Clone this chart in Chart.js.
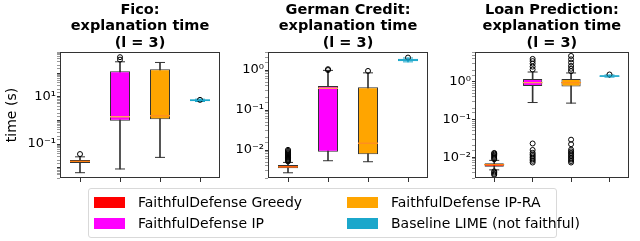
<!DOCTYPE html>
<html>
<head>
<meta charset="utf-8">
<script src="https://cdn.jsdelivr.net/npm/chart.js@4.4.1/dist/chart.umd.min.js"></script>
<style>
body{margin:0;width:640px;height:241px;overflow:hidden;background:#fff;font-family:"DejaVu Sans",sans-serif;position:relative}
canvas{position:absolute;left:0;top:0}
#legend{position:absolute;left:88px;top:188px;width:467px;height:48px;border:1px solid #d9d9d9;border-radius:3px;background:#fff}
.item{position:absolute;font-size:14px;line-height:16px;white-space:nowrap;color:#000}
.sw{display:inline-block;width:31px;height:11px;vertical-align:-1px;margin-right:13px}
</style>
</head>
<body>
<canvas id="fico" width="640" height="241"></canvas>
<canvas id="german" width="640" height="241"></canvas>
<canvas id="loan" width="640" height="241"></canvas>
<div id="legend"></div>
<script>
const methods = ["FaithfulDefense Greedy", "FaithfulDefense IP", "FaithfulDefense IP-RA", "Baseline LIME (not faithful)"];
const boxColors = ["#ff0000", "#ff00ff", "#ffa500", "#1ba7cb"];
const edgeColors = ["#333", "#333", "#333", "#1ba7cb"];
const medianColors = ["#ff7f0e", "#ff9f5e", "#ff8f1e", "#1ba7cb"];

// Fico
const ficoQ1 = [0.016, 0.97, 1.12, 6.4];
const ficoQ3 = [0.0214, 120, 144, 7.8];
const ficoMed = [0.0186, 1.43, 1.58, 7.1];
const ficoLow = [0.0062, 0.0089, 0.0275, 6.3];
const ficoHigh = [0.029, 300, 281, 7.9];
const ficoOut = [[0.038], [370, 470], [], [7.4]];
const ficoTickVals = [10, 0.1];
const ficoTickText = ["10¹", "10⁻¹"];

// German Credit
const germanQ1 = [0.0035, 0.0091, 0.0078, 1.65];
const germanQ3 = [0.0042, 0.40, 0.37, 1.92];
const germanMed = [0.0038, 0.35, 0.0148, 1.78];
const germanLow = [0.0027, 0.0054, 0.0051, 1.6];
const germanHigh = [0.0049, 0.98, 0.85, 2.0];
const germanOut = [
    [0.0052, 0.0055, 0.0058, 0.0061, 0.0064, 0.0067, 0.0071, 0.0075, 0.0079, 0.0084, 0.0089, 0.0095, 0.0101],
    [1.0, 1.05],
    [0.95],
    [2.05],
];
const germanTickVals = [1, 0.1, 0.01];
const germanTickText = ["10⁰", "10⁻¹", "10⁻²"];

// Loan Prediction
const loanQ1 = [0.0056, 0.77, 0.74, 1.34];
const loanQ3 = [0.0069, 1.18, 1.18, 1.48];
const loanMed = [0.0063, 0.94, 0.94, 1.41];
const loanLow = [0.0046, 0.28, 0.27, 1.32];
const loanHigh = [0.0082, 1.8, 1.7, 1.5];
const loanOut = [
    [0.0034, 0.0036, 0.0039, 0.0042, 0.0088, 0.0094, 0.0101, 0.0108, 0.0116, 0.0124, 0.0129],
    [2.1, 2.5, 3.0, 3.5, 4.0, 0.0072, 0.008, 0.0088, 0.0097, 0.0107, 0.0118, 0.013, 0.0155, 0.023],
    [1.9, 2.2, 2.6, 3.2, 3.9, 4.8, 0.0072, 0.0079, 0.0087, 0.0096, 0.0106, 0.0117, 0.0129, 0.0142, 0.0158, 0.022, 0.029],
    [1.55],
];
const loanTickVals = [1, 0.1, 0.01];
const loanTickText = ["10⁰", "10⁻¹", "10⁻²"];

const framePlugin = {
    id: "frame",
    afterDraw(chart) {
        const a = chart.chartArea;
        const ctx = chart.ctx;
        ctx.save();
        ctx.strokeStyle = "#333";
        ctx.lineWidth = 1;
        ctx.strokeRect(Math.round(a.left) + 0.5, Math.round(a.top) + 0.5, Math.round(a.right - a.left) - 1, Math.round(a.bottom - a.top) - 1);
        ctx.restore();
    },
};

const buildPanel = (id, p) => {
    const capPts = [];
    const capColors = [];
    const medPts = [];
    const outPts = [];
    for (let i = 0; i < methods.length; i++) {
        capPts.push({ x: methods[i], y: p.low[i] }, { x: methods[i], y: p.high[i] });
        capColors.push(edgeColors[i], edgeColors[i]);
        medPts.push({ x: methods[i], y: p.med[i] });
        p.out[i].forEach((v) => outPts.push({ x: methods[i], y: v }));
    }
    new Chart(document.getElementById(id), {
        type: "bar",
        data: {
            labels: methods,
            datasets: [
                {
                    type: "bar",
                    data: methods.map((m, i) => [p.low[i], p.high[i]]),
                    backgroundColor: edgeColors,
                    barThickness: 1,
                    borderWidth: 0,
                    grouped: false,
                    order: 3,
                },
                {
                    type: "bar",
                    data: methods.map((m, i) => [p.q1[i], p.q3[i]]),
                    backgroundColor: boxColors,
                    borderColor: edgeColors,
                    borderWidth: 1,
                    borderSkipped: false,
                    barPercentage: 0.5,
                    categoryPercentage: 1,
                    grouped: false,
                    order: 2,
                },
                {
                    type: "line",
                    data: capPts,
                    showLine: false,
                    pointStyle: "line",
                    pointRadius: 5,
                    pointBorderColor: capColors,
                    pointBorderWidth: 1,
                    order: 1,
                },
                {
                    type: "line",
                    data: medPts,
                    showLine: false,
                    pointStyle: "line",
                    pointRadius: 10,
                    pointBorderColor: medianColors,
                    pointBorderWidth: 1.3,
                    order: 0,
                },
                {
                    type: "line",
                    data: outPts,
                    showLine: false,
                    pointStyle: "circle",
                    pointRadius: 2.5,
                    pointBorderColor: "#000",
                    pointBackgroundColor: "rgba(0,0,0,0)",
                    pointBorderWidth: 1,
                    order: 0,
                },
            ],
        },
        options: {
            responsive: false,
            animation: false,
            events: [],
            layout: { padding: { left: p.padLeft, right: 640 - p.right, top: 2.3, bottom: 58 } },
            plugins: {
                legend: { display: false },
                tooltip: { enabled: false },
                title: {
                    display: true,
                    fullSize: false,
                    text: p.title,
                    color: "#000",
                    font: { family: "DejaVu Sans", size: 14.5, weight: "bold", lineHeight: 1.12 },
                    padding: { top: 0, bottom: 1 },
                },
            },
            scales: {
                x: {
                    grid: { drawOnChartArea: false, offset: false, tickLength: 4, tickColor: "#333" },
                    border: { display: false },
                    ticks: { callback: () => "", padding: 0 },
                    afterFit: (s) => { s.height = 5; },
                },
                y: {
                    type: "logarithmic",
                    min: p.min,
                    max: p.max,
                    border: { display: false },
                    grid: {
                        drawOnChartArea: false,
                        tickLength: 3,
                        tickColor: (c) => (c.tick && c.tick.major ? "#333" : "#999"),
                    },
                    ticks: {
                        autoSkip: false,
                        padding: 1,
                        color: "#000",
                        font: { family: "DejaVu Sans", size: 13 },
                        callback: (v) => {
                            const k = p.tickVals.findIndex((t) => Math.abs(Math.log10(v) - Math.log10(t)) < 1e-6);
                            return k >= 0 ? p.tickText[k] : "";
                        },
                    },
                    title: {
                        display: p.yTitle,
                        text: "time (s)",
                        color: "#000",
                        font: { family: "DejaVu Sans", size: 14 },
                        padding: { top: 4, bottom: 0 },
                    },
                    afterFit: (s) => { s.width = p.yW; },
                },
            },
        },
        plugins: [framePlugin],
    });
};

buildPanel("fico", {
    title: ["Fico:", "explanation time", "(l = 3)"],
    q1: ficoQ1, q3: ficoQ3, med: ficoMed, low: ficoLow, high: ficoHigh, out: ficoOut,
    tickVals: ficoTickVals, tickText: ficoTickText,
    min: 0.0037, max: 776, padLeft: 0, yW: 60, right: 220, yTitle: true,
});
buildPanel("german", {
    title: ["German Credit:", "explanation time", "(l = 3)"],
    q1: germanQ1, q3: germanQ3, med: germanMed, low: germanLow, high: germanHigh, out: germanOut,
    tickVals: germanTickVals, tickText: germanTickText,
    min: 0.002, max: 2.82, padLeft: 223, yW: 45, right: 428, yTitle: false,
});
buildPanel("loan", {
    title: ["Loan Prediction:", "explanation time", "(l = 3)"],
    q1: loanQ1, q3: loanQ3, med: loanMed, low: loanLow, high: loanHigh, out: loanOut,
    tickVals: loanTickVals, tickText: loanTickText,
    min: 0.0028, max: 6.1, padLeft: 430, yW: 45, right: 635, yTitle: false,
});

// legend, column by column like the original
const legend = document.getElementById("legend");
const legendPos = [[5, 4.7], [5, 26.3], [258, 4.7], [258, 26.3]];
methods.forEach((m, i) => {
    const it = document.createElement("div");
    it.className = "item";
    it.style.left = legendPos[i][0] + "px";
    it.style.top = legendPos[i][1] + "px";
    it.innerHTML = `<span class="sw" style="background:${boxColors[i]}"></span>${m}`;
    legend.appendChild(it);
});
</script>
</body>
</html>
